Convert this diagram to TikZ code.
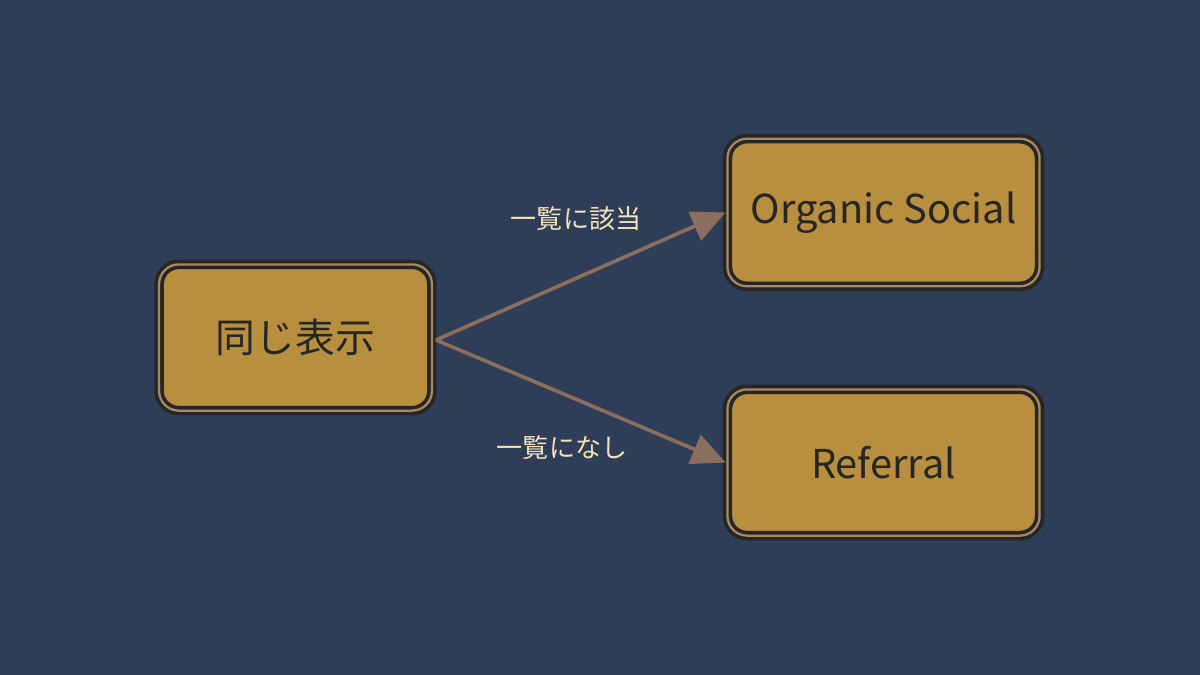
\documentclass[tikz,border=0pt]{standalone}
\usepackage{fontspec}
\setmainfont{Noto Sans CJK JP}
\usetikzlibrary{arrows.meta}
\definecolor{bg}{HTML}{2E3E58}
\definecolor{boxfill}{HTML}{B88F3E}
\definecolor{band}{HTML}{A88A62}
\definecolor{edge}{HTML}{8B6E5E}
\definecolor{lab}{HTML}{F5E3B5}
\begin{document}
\begin{tikzpicture}[x=0.025cm,y=-0.025cm,
  box/.style={draw=black!85, line width=2.6pt, double=band, double distance=1.6pt, fill=boxfill, rounded corners=14pt, text=black!85, font=\fontsize{28.3}{33}\selectfont},
  conn/.style={draw=edge, line width=2.6pt, -{Triangle[length=24pt,width=22pt,fill=edge]}},
  lbl/.style={text=lab, font=\fontsize{18.5}{22}\selectfont}]
\fill[bg] (0,0) rectangle (1200,675);
\useasboundingbox (0,0) rectangle (1200,675);
\node[box, minimum width=194pt, minimum height=104pt] (a) at (295.5,337.5) {同じ表示};
\node[box, minimum width=222pt, minimum height=105pt] (b) at (883.5,212.5) {Organic Social};
\node[box, minimum width=222pt, minimum height=104pt] (c) at (883.5,462.5) {Referral};
\coordinate (s) at (436,340);
\draw[conn] (s) -- (b.west);
\draw[conn] (s) -- (c.west);
\node[lbl] (l1) at (576,219) {一覧に該当};
\node[lbl] (l2) at (562,448) {一覧になし};
\end{tikzpicture}
\end{document}
